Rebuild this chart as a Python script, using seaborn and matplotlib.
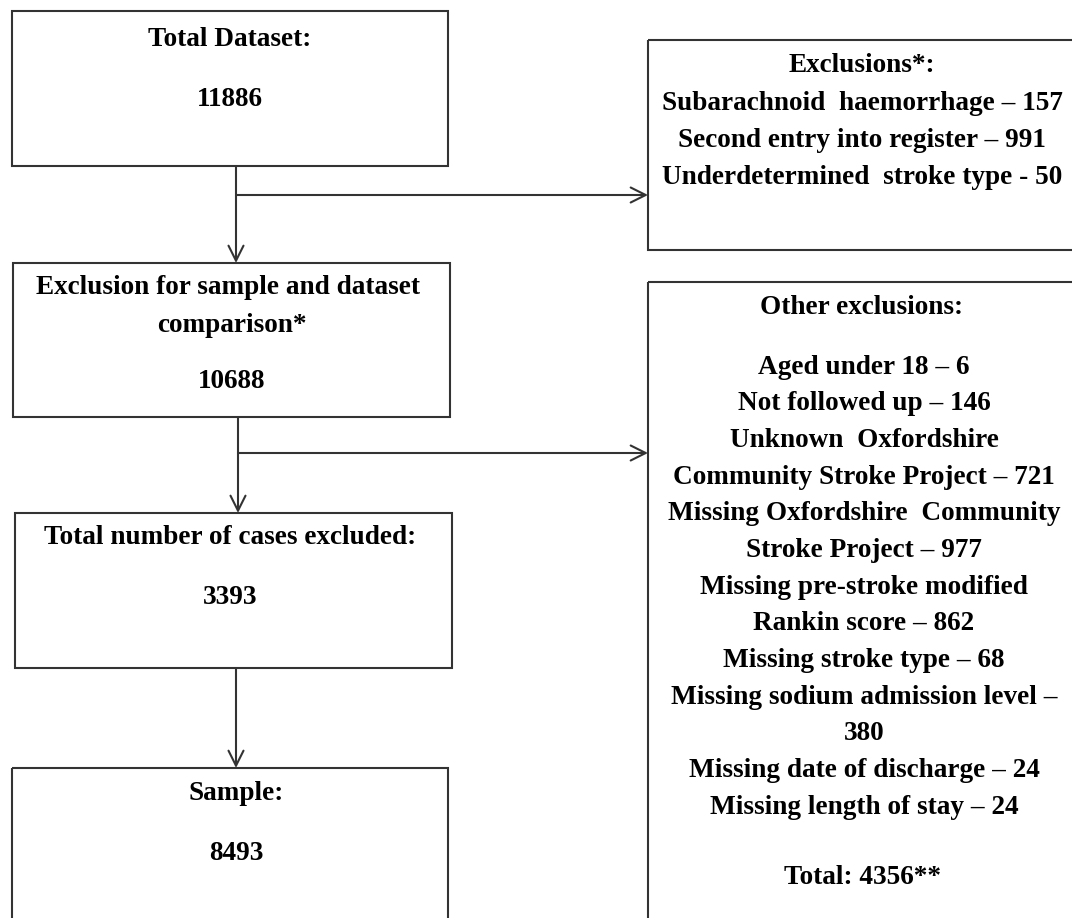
import matplotlib
matplotlib.use('Agg')

import seaborn as sns
import matplotlib.pyplot as plt
from matplotlib.patches import Rectangle

# Flow numbers
total_dataset = 11886
comparison_n = 10688
excluded_n = 3393
sample_n = 8493
other_total = 4356

# First exclusion box
first_excl_title = "Exclusions*:"
first_excl_lines = ["Subarachnoid  haemorrhage \u2013 157",
                    "Second entry into register \u2013 991",
                    "Underdetermined  stroke type - 50"]

# Other exclusions box
other_excl_title = "Other exclusions:"
other_excl_lines = ["Aged under 18 \u2013 6",
                    "Not followed up \u2013 146",
                    "Unknown  Oxfordshire",
                    "Community Stroke Project \u2013 721",
                    "Missing Oxfordshire  Community",
                    "Stroke Project \u2013 977",
                    "Missing pre-stroke modified",
                    "Rankin score \u2013 862",
                    "Missing stroke type \u2013 68",
                    "Missing sodium admission level \u2013",
                    "380",
                    "Missing date of discharge \u2013 24",
                    "Missing length of stay \u2013 24"]

sns.set_style("white")
plt.rcParams['font.family'] = ['Liberation Serif', 'DejaVu Serif']

W, H = 1072, 918
fig = plt.figure(figsize=(W / 100, H / 100), dpi=100)
ax = fig.add_axes([0, 0, 1, 1])
ax.set_xlim(0, W)
ax.set_ylim(H, 0)
ax.axis('off')

edge = '#333333'
lw = 1.5
fs = 19.6

def box(x0, y0, x1, y1):
    ax.add_patch(Rectangle((x0, y0), x1 - x0, y1 - y0, fill=False,
                           edgecolor=edge, linewidth=lw, clip_on=True))

def txt(x, y, s):
    ax.text(x, y, s, ha='center', va='center', fontsize=fs,
            fontweight='bold', color='black')

def arrow(x0, y0, x1, y1):
    ax.annotate('', xy=(x1, y1), xytext=(x0, y0),
                arrowprops=dict(arrowstyle='->,head_length=0.9,head_width=0.45',
                                color=edge, lw=lw, shrinkA=0, shrinkB=0,
                                mutation_scale=12))

# left column boxes
box(12, 11, 448, 166)
txt(230, 40, "Total Dataset:")
txt(230, 99, str(total_dataset))

box(13, 263, 450, 417)
txt(228, 288, "Exclusion for sample and dataset")
txt(232, 325, "comparison*")
txt(232, 382, str(comparison_n))

box(15, 513, 452, 668)
txt(230, 538, "Total number of cases excluded:")
txt(230, 598, str(excluded_n))

box(12, 768, 448, 930)
txt(236, 794, "Sample:")
txt(236, 853, str(sample_n))

# right column boxes
box(648, 40, 1080, 250)
txt(862, 66, first_excl_title)
for i, s in enumerate(first_excl_lines):
    txt(862, 103 + i * 37.5, s)

box(648, 282, 1080, 930)
txt(862, 307, other_excl_title)
for i, s in enumerate(other_excl_lines):
    txt(864, 367 + i * 36.7, s)
txt(862, 878, "Total: %d**" % other_total)

# connectors
ax.plot([236, 236], [166, 195], color=edge, lw=lw)
arrow(236, 195, 236, 263)
arrow(236, 195, 648, 195)

ax.plot([238, 238], [417, 453], color=edge, lw=lw)
arrow(238, 453, 238, 513)
arrow(238, 453, 648, 453)

arrow(236, 668, 236, 768)

fig.savefig('out.png', dpi=100, facecolor='white')
